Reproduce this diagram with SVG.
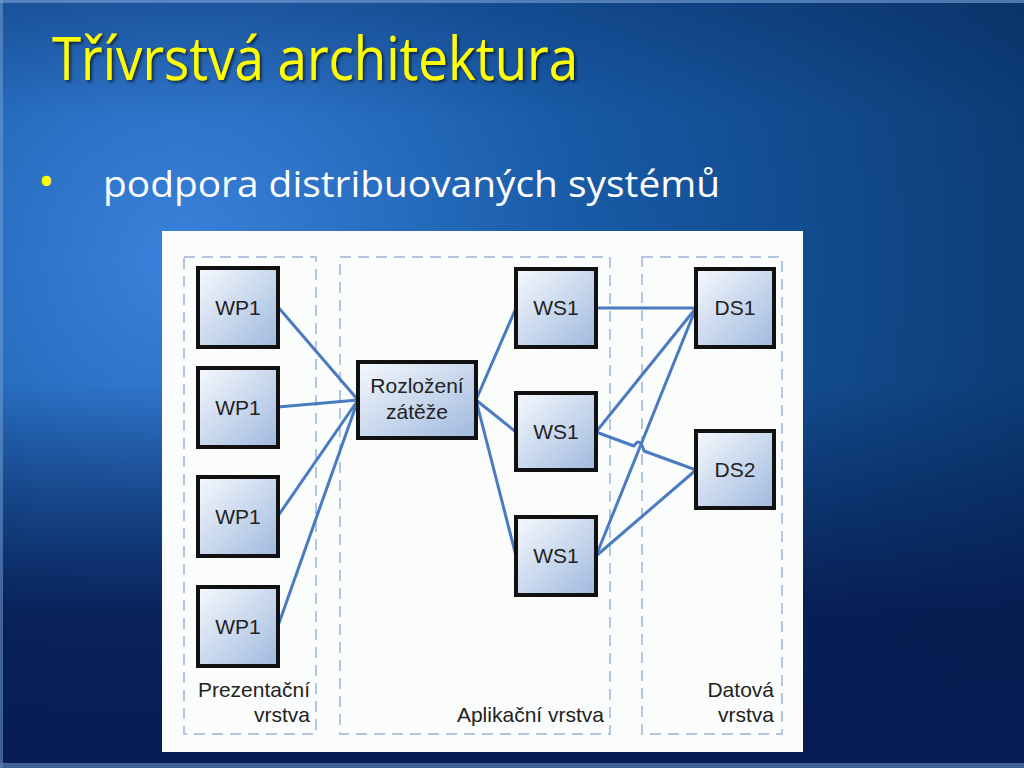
<svg xmlns="http://www.w3.org/2000/svg" width="1024" height="768" viewBox="0 0 1024 768">
<defs>
<radialGradient id="bg" cx="180" cy="260" r="900" gradientUnits="userSpaceOnUse">
<stop offset="0" stop-color="#3a82dc"/>
<stop offset="0.45" stop-color="#185aa6"/>
<stop offset="1" stop-color="#0b3a72"/>
</radialGradient>
<linearGradient id="shade" x1="0" y1="0" x2="0" y2="1">
<stop offset="0" stop-color="#061a4a" stop-opacity="0.25"/>
<stop offset="0.15" stop-color="#061a4a" stop-opacity="0"/>
<stop offset="0.5" stop-color="#061a4a" stop-opacity="0"/>
<stop offset="0.8" stop-color="#06184c" stop-opacity="0.85"/>
<stop offset="1" stop-color="#061a50" stop-opacity="0.95"/>
</linearGradient>
<linearGradient id="box" x1="0" y1="0" x2="1" y2="1">
<stop offset="0" stop-color="#f6f9fd"/>
<stop offset="1" stop-color="#9fb9df"/>
</linearGradient>
<filter id="sh" x="-5%" y="-20%" width="110%" height="140%">
<feDropShadow dx="2" dy="2" stdDeviation="1.5" flood-color="#000" flood-opacity="0.6"/>
</filter>
<style>
.node rect{fill:url(#box);stroke:#111;stroke-width:4}
.node text,.lbl{font-family:"Liberation Sans",Arial,sans-serif;font-size:21px;fill:#222}
.node text{text-anchor:middle}
.lane{fill:none;stroke:#b4c6df;stroke-width:2;stroke-dasharray:11 7}
#connectors path{fill:none;stroke:#4a7bc0;stroke-width:3;stroke-linejoin:round}
</style>
</defs>
<rect width="1024" height="768" fill="url(#bg)"/>
<rect width="1024" height="768" fill="url(#shade)"/>
<rect x="0" y="0" width="1024" height="3" fill="#7aa4d8" opacity="0.6"/>
<rect x="0" y="0" width="3" height="768" fill="#7aa4d8" opacity="0.5"/>
<rect x="0" y="763" width="1024" height="5" fill="#5a7cb4" opacity="0.7"/>
<text x="52" y="80" filter="url(#sh)" font-family="'Open Sans','Noto Sans',sans-serif" font-size="60" fill="#ffff00" textLength="526" lengthAdjust="spacingAndGlyphs">Třívrstvá architektura</text>
<text x="38" y="197" font-family="'Open Sans',sans-serif" font-size="44" fill="#ffff00">•</text>
<text x="103" y="197" font-family="'Open Sans','Noto Sans',sans-serif" font-size="36" fill="#ffffff" textLength="617" lengthAdjust="spacingAndGlyphs">podpora distribuovaných systémů</text>
<rect x="162" y="231" width="641" height="521" fill="#fbfdfd"/>
<g id="lanes">
<rect class="lane" x="184" y="257" width="132" height="477"/>
<rect class="lane" x="340" y="257" width="270" height="477"/>
<rect class="lane" x="642" y="257" width="140" height="477"/>
<text class="lbl" x="310" y="697" text-anchor="end">Prezentační</text>
<text class="lbl" x="310" y="722" text-anchor="end">vrstva</text>
<text class="lbl" x="604" y="722" text-anchor="end">Aplikační vrstva</text>
<text class="lbl" x="774" y="697" text-anchor="end">Datová</text>
<text class="lbl" x="774" y="722" text-anchor="end">vrstva</text>
</g>
<g id="connectors">
<path d="M278 307 L358 400"/>
<path d="M278 407 L358 400"/>
<path d="M278 516 L358 400"/>
<path d="M278 626 L358 400"/>
<path d="M476 400 L516 308"/>
<path d="M476 400 L516 432"/>
<path d="M476 400 L516 556"/>
<path d="M596 308 L696 308"/>
<path d="M596 432 L696 308"/>
<path d="M596 556 L696 308"/>
<path d="M596 556 L696 470"/>
<path d="M596 432 L634 446 Q640 436 644 451 L696 470"/>
</g>
<g id="wp1a" class="node"><rect x="198" y="268" width="80" height="79"/><text x="238" y="315">WP1</text></g>
<g id="wp1b" class="node"><rect x="198" y="368" width="80" height="79"/><text x="238" y="415">WP1</text></g>
<g id="wp1c" class="node"><rect x="198" y="477" width="80" height="79"/><text x="238" y="524">WP1</text></g>
<g id="wp1d" class="node"><rect x="198" y="587" width="80" height="79"/><text x="238" y="634">WP1</text></g>
<g id="lb" class="node"><rect x="358" y="362" width="118" height="76"/><text x="417" y="393">Rozložení</text><text x="417" y="419">zátěže</text></g>
<g id="ws1a" class="node"><rect x="516" y="269" width="80" height="78"/><text x="556" y="315">WS1</text></g>
<g id="ws1b" class="node"><rect x="516" y="393" width="80" height="77"/><text x="556" y="439">WS1</text></g>
<g id="ws1c" class="node"><rect x="516" y="517" width="80" height="78"/><text x="556" y="563">WS1</text></g>
<g id="ds1" class="node"><rect x="696" y="269" width="78" height="78"/><text x="735" y="315">DS1</text></g>
<g id="ds2" class="node"><rect x="696" y="431" width="78" height="77"/><text x="735" y="477">DS2</text></g>
</svg>
